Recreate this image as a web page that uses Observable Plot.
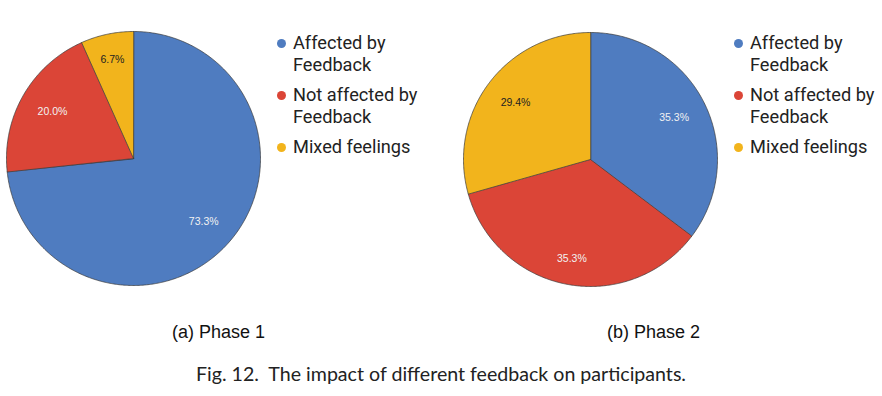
<!DOCTYPE html>
<html>
<head>
<meta charset="utf-8">
<script src="https://cdn.jsdelivr.net/npm/d3@7"></script>
<script src="https://cdn.jsdelivr.net/npm/@observablehq/plot@0.6"></script>
<style>
  html, body { margin: 0; padding: 0; background: #fff; }
  #root { position: relative; width: 882px; height: 396px; overflow: hidden; }
  .pie { position: absolute; }
  .legend { position: absolute; font-family: Roboto, sans-serif; font-size: 18.2px; color: #222; line-height: 22px; }
  .legend .item { position: relative; padding-left: 16px; margin-bottom: 8px; white-space: nowrap; }
  .legend .dot { position: absolute; left: 0; top: 7px; width: 9px; height: 9px; border-radius: 50%; }
  .sub { position: absolute; font-family: "Liberation Sans", Arial, sans-serif; font-size: 18px; color: #111; white-space: nowrap; }
  .fig { position: absolute; left: 0; width: 882px; text-align: center; font-family: Lato, "Noto Sans", sans-serif; font-size: 19.6px; color: #222; white-space: pre; }
</style>
</head>
<body>
<div id="root"></div>
<script>
// ---- data ----
const categories = ["Affected by Feedback", "Not affected by Feedback", "Mixed feelings"];
const legendLines = [["Affected by", "Feedback"], ["Not affected by", "Feedback"], ["Mixed feelings"]];
const colors = ["#4f7cc0", "#db4537", "#f2b41c"];
const labelColors = ["#f2f2f2", "#f2f2f2", "#222222"];
const phase1Values = [73.3, 20.0, 6.7];
const phase2Values = [35.3, 35.3, 29.4];
const subCaptions = ["(a) Phase 1", "(b) Phase 2"];
const figCaption = "Fig. 12.  The impact of different feedback on participants.";

const root = document.getElementById("root");
const R = 127;

function slices(values) {
  const total = d3.sum(values);
  let acc = 0;
  return values.map((v, i) => {
    const a0 = acc / total * 2 * Math.PI;
    acc += v;
    const a1 = acc / total * 2 * Math.PI;
    const n = Math.max(2, Math.ceil((a1 - a0) / 0.01));
    const ring = [[0, 0]];
    for (let k = 0; k <= n; k++) {
      const a = a0 + (a1 - a0) * k / n;
      ring.push([Math.sin(a), -Math.cos(a)]);
    }
    ring.push([0, 0]);
    const mid = (a0 + a1) / 2;
    const s = Math.sin(mid), c = Math.cos(mid);
    // label box (half width 15.6px, half height 6px) kept 17px inside the rim
    const rl = (R - 17 - 15.6 * Math.abs(s) - 6 * Math.abs(c)) / R;
    return {
      type: "Feature",
      properties: {
        category: categories[i],
        label: (v / total * 100).toFixed(1) + "%",
        lx: rl * s,
        ly: -rl * c,
        lc: labelColors[i]
      },
      geometry: {type: "Polygon", coordinates: [ring]}
    };
  });
}

function drawPie(values, cx, cy) {
  const feats = slices(values);
  const chart = Plot.plot({
    width: 2 * R + 2,
    height: 2 * R + 2,
    margin: 0,
    inset: 1,
    projection: {type: "identity", domain: {type: "FeatureCollection", features: feats}},
    color: {domain: categories, range: colors},
    marks: [
      Plot.geo(feats, {fill: d => d.properties.category, stroke: "#3a3a3a", strokeWidth: 0.8, strokeOpacity: 0.9}),
      Plot.text(feats, {
        x: d => d.properties.lx, y: d => d.properties.ly,
        text: d => d.properties.label,
        fill: d => d.properties.lc,
        fontSize: 10.5,
        fontFamily: "Liberation Sans, Arial, sans-serif"
      })
    ]
  });
  const wrap = document.createElement("div");
  wrap.className = "pie";
  wrap.style.left = (cx - R - 1) + "px";
  wrap.style.top = (cy - R - 1) + "px";
  wrap.appendChild(chart);
  root.appendChild(wrap);
}

function drawLegend(x, y) {
  const lg = document.createElement("div");
  lg.className = "legend";
  lg.style.left = x + "px";
  lg.style.top = y + "px";
  legendLines.forEach((lines, i) => {
    const it = document.createElement("div");
    it.className = "item";
    const dot = document.createElement("span");
    dot.className = "dot";
    dot.style.background = colors[i];
    it.appendChild(dot);
    lines.forEach((t, j) => {
      if (j) it.appendChild(document.createElement("br"));
      it.appendChild(document.createTextNode(t));
    });
    lg.appendChild(it);
  });
  root.appendChild(lg);
}

function addText(cls, text, css) {
  const el = document.createElement("div");
  el.className = cls;
  el.textContent = text;
  Object.assign(el.style, css);
  root.appendChild(el);
  return el;
}

drawPie(phase1Values, 132.5, 158);
drawPie(phase2Values, 589.5, 158.5);
drawLegend(277, 32);
drawLegend(734, 32);
addText("sub", subCaptions[0], {left: "172px", top: "322px"});
addText("sub", subCaptions[1], {left: "607px", top: "322px"});
addText("fig", figCaption, {top: "362px"});
</script>
</body>
</html>
